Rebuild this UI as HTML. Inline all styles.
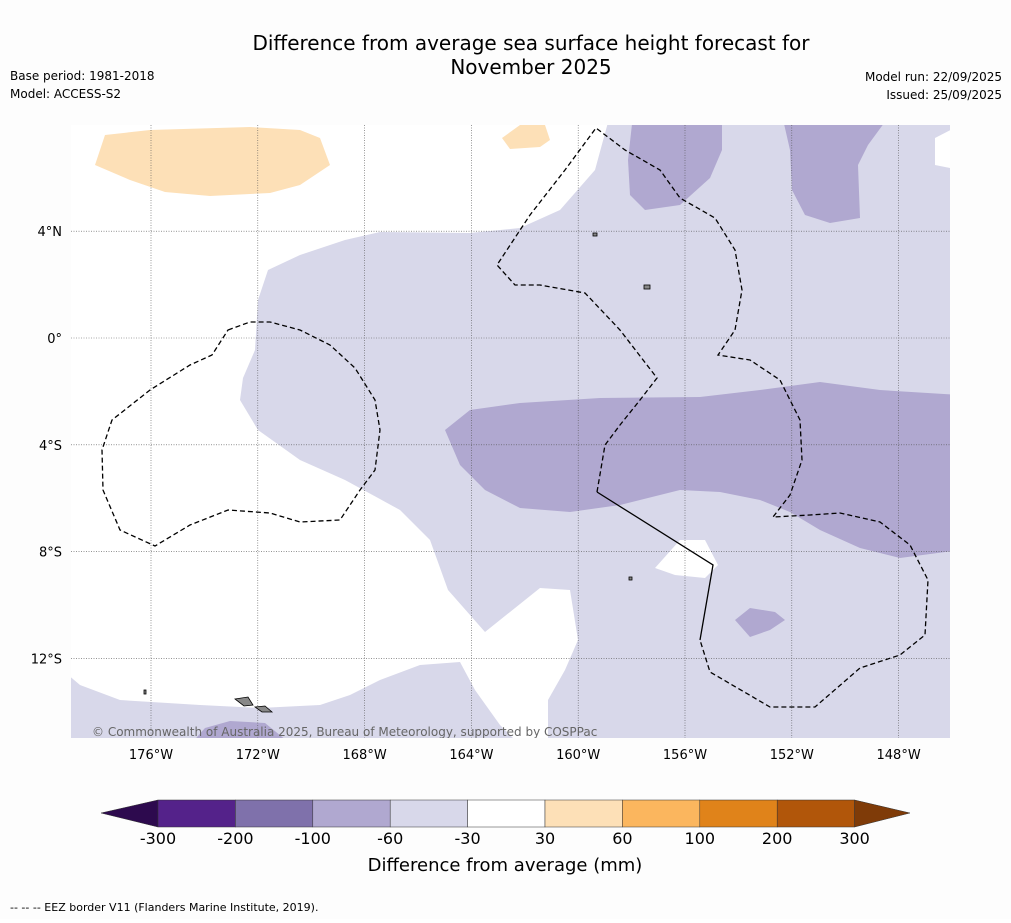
<!DOCTYPE html>
<html><head><meta charset="utf-8"><style>
body{margin:0;background:#fff;font-family:"DejaVu Sans","Liberation Sans",sans-serif;}
svg text{font-family:"DejaVu Sans","Liberation Sans",sans-serif;}
</style></head><body>
<svg id="s" width="1011" height="919" viewBox="0 0 1011 919" xmlns="http://www.w3.org/2000/svg">
<rect width="1011" height="919" fill="#fdfdfd"/>
<text x="531" y="50" font-size="20" text-anchor="middle">Difference from average sea surface height forecast for</text>
<text x="531" y="74" font-size="20" text-anchor="middle">November 2025</text>
<text x="10" y="80" font-size="12">Base period: 1981-2018</text>
<text x="10" y="98" font-size="12">Model: ACCESS-S2</text>
<text x="1002" y="81" font-size="12" text-anchor="end">Model run: 22/09/2025</text>
<text x="1002" y="99" font-size="12" text-anchor="end">Issued: 25/09/2025</text>
<defs><clipPath id="mc"><rect x="71" y="125" width="879" height="613"/></clipPath></defs>
<g clip-path="url(#mc)">
<rect x="71" y="125" width="879" height="613" fill="#d8d8ea"/>
<polygon fill="#ffffff" points="60,115 610,115 595,170 560,210 520,228 470,233 380,232 345,240 300,255 268,270 258,300 255,350 243,378 240,400 258,430 300,460 345,480 400,510 430,540 448,590 485,632 540,588 570,590 578,640 565,670 548,700 548,745 520,745 500,725 475,690 460,662 420,665 380,680 350,695 320,705 260,708 200,705 120,700 80,685 60,668"/>
<polygon fill="#ffffff" points="935,138 960,125 960,170 935,165"/>
<polygon fill="#ffffff" points="655,568 680,540 705,540 718,565 705,578 675,575"/>
<polygon fill="#d8d8ea" points="60,705 100,720 140,735 140,745 60,745"/>
<g fill="#b0a8d0">
<polygon points="445,430 470,410 520,403 600,398 700,397 760,390 820,382 880,390 960,395 960,550 900,558 860,548 820,530 790,512 760,500 720,492 680,490 620,505 570,512 520,508 485,490 460,465"/>
<polygon points="633,115 722,115 722,150 710,178 680,205 645,210 630,195 628,160"/>
<polygon points="782,115 890,115 868,145 858,165 860,218 830,223 805,215 792,190 790,150"/>
<polygon points="735,620 750,608 775,612 785,620 770,630 750,637"/>
<polygon points="190,745 205,728 230,721 265,723 292,745"/>
</g>
<g fill="#fde0b7">
<polygon points="105,135 150,130 250,127 300,130 320,138 330,165 300,185 270,193 210,196 165,192 130,180 95,165"/>
<polygon points="502,138 520,125 545,125 550,140 540,147 510,149"/>
</g>
<g id="grid" stroke="#555" stroke-width="0.6" stroke-dasharray="1,1.5"></g>
<g fill="none" stroke="#000" stroke-width="1.3" stroke-dasharray="5,3">
<polygon points="228,330 250,322 270,322 300,330 330,345 355,368 375,400 380,430 375,470 360,490 340,520 300,522 270,513 228,510 190,525 155,546 120,530 103,490 102,450 112,420 150,390 190,365 212,355"/>
<polyline points="597,492 605,445 620,425 640,400 657,378 620,330 585,293 540,285 515,285 497,265 530,215 565,170 596,128 625,150 660,170 680,198 715,218 735,250 742,290 735,330 718,355 750,360 780,380 800,420 802,460 790,495 773,517 810,515 840,513 880,522 910,545 928,580 925,635 900,655 860,668 815,707 770,707 710,672 700,640"/>
</g>
<polyline points="597,492 713,565 700,640" fill="none" stroke="#000" stroke-width="1.3"/>
<g fill="#888" stroke="#000" stroke-width="0.8">
<polygon points="235,699 248,697 253,705 244,706"/>
<polygon points="255,707 265,706 272,712 262,712"/>
<rect x="644" y="285" width="6" height="4"/><rect x="593" y="233" width="4" height="3"/>
<rect x="629" y="577" width="3" height="3"/><rect x="144" y="690" width="2" height="4"/>
</g>
<text x="92" y="736" font-size="12" fill="#666">© Commonwealth of Australia 2025, Bureau of Meteorology, supported by COSPPac</text>
</g>
<g id="axes"></g>
<g id="cbar"></g>
<text x="505" y="871" font-size="18" text-anchor="middle">Difference from average (mm)</text>
<text x="10" y="911" font-size="11">--  --  -- EEZ border V11 (Flanders Marine Institute, 2019).</text>
</svg>
<script>
const lonTicks=[-176,-172,-168,-164,-160,-156,-152,-148];
const latTicks=[4,0,-4,-8,-12];
const cbarBounds=[-300,-200,-100,-60,-30,30,60,100,200,300];
const cbarColors=["#54228a","#7f71ab","#b0a8d0","#d8d8ea","#ffffff","#fde0b7","#fbb65e","#e0831a","#b1560a"];
const NS="http://www.w3.org/2000/svg";
const xLon=l=>151+(l+176)*26.7;
const yLat=l=>338-l*26.7;
const cx=i=>158+i*77.4;
function mk(t,a,p){const e=document.createElementNS(NS,t);for(const k in a)e.setAttribute(k,a[k]);p.appendChild(e);return e;}
const grid=document.getElementById('grid'),axes=document.getElementById('axes'),cb=document.getElementById('cbar');
lonTicks.forEach(l=>{const x=xLon(l);
const g=mk('line',{x1:x,x2:x,y1:125,y2:738},grid);


const t=mk('text',{x:x,y:759,'font-size':13,'text-anchor':'middle'},axes);t.textContent=Math.abs(l)+'°W';

});
latTicks.forEach(l=>{const y=yLat(l);
const g=mk('line',{x1:71,x2:950,y1:y,y2:y},grid);


const t=mk('text',{x:62,y:y+5,'font-size':13,'text-anchor':'end'},axes);t.textContent=l===0?'0°':Math.abs(l)+'°'+(l>0?'N':'S');

});
const lt=mk('polygon',{points:`101,813 ${cx(0)},800 ${cx(0)},827`,fill:'#2d0a4e',stroke:'#333','stroke-width':0.5},cb);


cbarColors.forEach((c,i)=>{const r=mk('rect',{x:cx(i),y:800,width:cx(i+1)-cx(i),height:27,fill:c,stroke:'#333','stroke-width':0.5},cb);

});
const n=cbarColors.length;
const rt=mk('polygon',{points:`${cx(n)},800 910,813 ${cx(n)},827`,fill:'#7f3b08',stroke:'#333','stroke-width':0.5},cb);


cbarBounds.forEach((v,i)=>{const t=mk('text',{x:cx(i),y:844,'font-size':16,'text-anchor':'middle'},cb);t.textContent=v;

});
</script>
</body></html>
